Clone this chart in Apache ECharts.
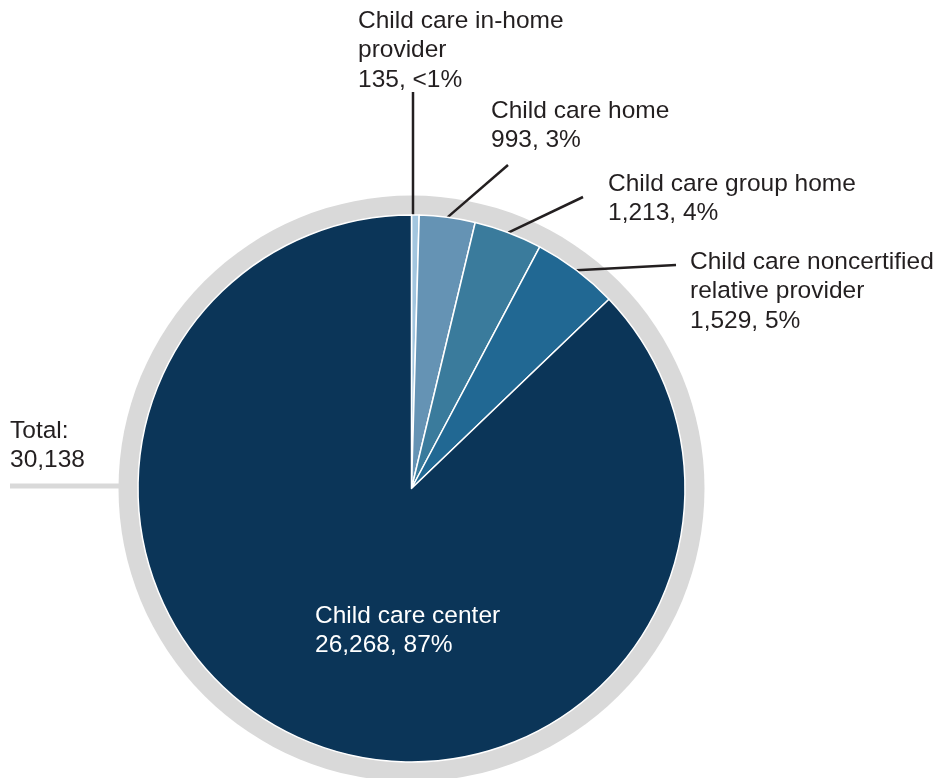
<!DOCTYPE html>
<html>
<head>
<meta charset="utf-8">
<script src="https://cdn.jsdelivr.net/npm/echarts@6/dist/echarts.min.js"></script>
<style>
  html, body { margin: 0; padding: 0; background: #ffffff; }
  #chart { width: 943px; height: 778px; }
</style>
</head>
<body>
<div id="chart"></div>
<script>
// ---- Data ----
const categories = [
  'Child care in-home provider',
  'Child care home',
  'Child care group home',
  'Child care noncertified relative provider',
  'Child care center'
];
const values = [135, 993, 1213, 1529, 26268];

// ---- Styles / layout (not data) ----
const colors = ['#a3c6df', '#6593b4', '#3a7b9c', '#216893', '#0b3558'];
const displayNames = [
  'Child care in-home\nprovider',
  'Child care home',
  'Child care group home',
  'Child care noncertified\nrelative provider',
  'Child care center'
];
// label block top-left and leader-line outer end
const labelPos = [[358, 6], [491, 96], [608, 169], [690, 247], [315, 601]];
const lineEnds = [[413, 92], [508, 165], [583, 197], [676, 265], null];

const total = values.reduce((a, b) => a + b, 0);
function fmt(n) { return n.toLocaleString('en-US'); }
function pct(v) {
  const p = v / total * 100;
  return p < 1 ? '<1%' : Math.round(p) + '%';
}

const textColor = '#231f20';
const FONT = '"Liberation Sans", Arial, Helvetica, sans-serif';
const FS = 24.5;
const LH = 29.5;

const chart = echarts.init(document.getElementById('chart'), null, { renderer: 'canvas' });

const cx = 411.5, cy = 488.5;

chart.setOption({
  animation: false,
  backgroundColor: '#ffffff',
  series: [
    {
      type: 'pie',
      center: [cx, cy],
      radius: [0, 293],
      silent: true,
      z: 1,
      label: { show: false },
      labelLine: { show: false },
      data: [{ value: total, name: 'Total', itemStyle: { color: '#d9d9d9' } }]
    },
    {
      type: 'pie',
      center: [cx, cy],
      radius: [0, 273.5],
      startAngle: 90,
      clockwise: true,
      z: 2,
      avoidLabelOverlap: false,
      itemStyle: { borderColor: '#ffffff', borderWidth: 1.5 },
      label: {
        show: true,
        position: 'outside',
        fontFamily: FONT,
        fontSize: FS,
        lineHeight: LH,
        color: textColor,
        align: 'left',
        formatter: (p) => displayNames[p.dataIndex] + '\n' + fmt(p.value) + ', ' + pct(p.value)
      },
      labelLine: {
        show: true,
        length: 10,
        length2: 10,
        lineStyle: { color: '#231f20', width: 2.5 }
      },
      labelLayout: function (params) {
        const i = params.dataIndex;
        const pos = labelPos[i];
        const res = {
          x: pos[0],
          y: pos[1],
          align: 'left',
          verticalAlign: 'top'
        };
        if (lineEnds[i] && params.labelLinePoints) {
          const start = params.labelLinePoints[0];
          if (i === 0) {
            res.labelLinePoints = [[lineEnds[i][0], start[1] + 2], lineEnds[i]];
          } else {
            res.labelLinePoints = [start, lineEnds[i]];
          }
        }
        return res;
      },
      data: values.map((v, i) => {
        const d = { value: v, name: categories[i], itemStyle: { color: colors[i] } };
        if (i === values.length - 1) {
          d.labelLine = { show: false };
          d.label = { color: '#ffffff' };
        }
        return d;
      })
    }
  ],
  graphic: [
    {
      type: 'line',
      z: 0,
      shape: { x1: 10, y1: 486, x2: cx - 290, y2: 486 },
      style: { stroke: '#d9d9d9', lineWidth: 5 }
    },
    {
      type: 'text',
      left: 10,
      top: 416,
      style: {
        text: 'Total:\n' + fmt(total),
        font: FS + 'px ' + FONT,
        lineHeight: LH,
        fill: textColor
      }
    }
  ]
});
</script>
</body>
</html>
